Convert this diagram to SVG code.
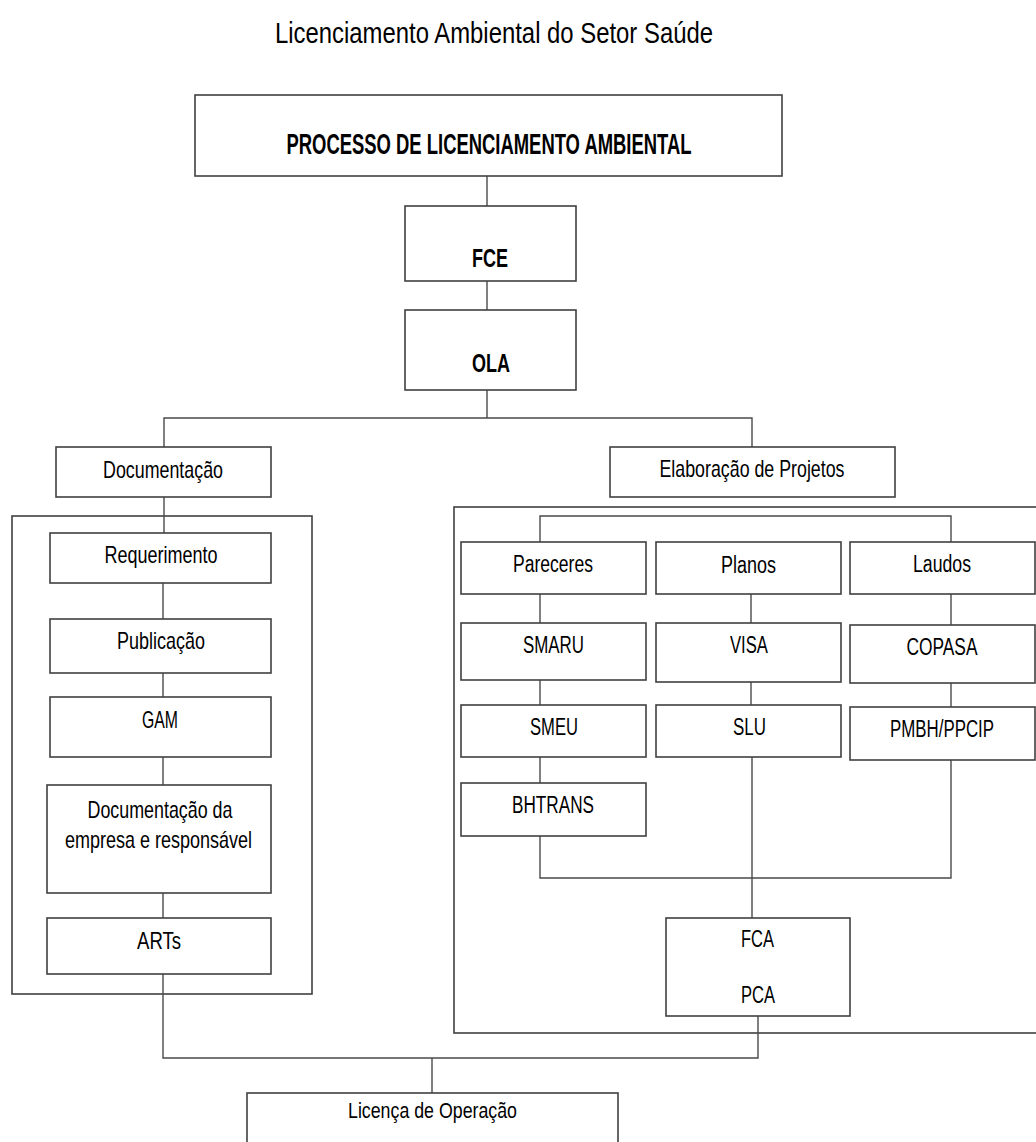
<svg xmlns="http://www.w3.org/2000/svg" width="1036" height="1142" viewBox="0 0 1036 1142">
  <style>
    .box { fill: #ffffff; stroke: #404040; stroke-width: 1.6; }
    .cont { fill: none; stroke: #404040; stroke-width: 1.6; }
    .ln { fill: none; stroke: #4a4a4a; stroke-width: 1.4; }
    .t { font-family: "Liberation Sans", Arial, sans-serif; font-size: 23px; fill: #000; text-anchor: middle; }
    .b { font-weight: bold; }
  </style>
  <rect width="1036" height="1142" fill="#ffffff"/>

  <text class="t" x="494" y="43" style="font-size:29px" textLength="438" lengthAdjust="spacingAndGlyphs">Licenciamento Ambiental do Setor Saúde</text>

  <g id="containers">
    <rect class="cont" x="12" y="516" width="300" height="478"/>
    <rect class="cont" x="454" y="507" width="600" height="526"/>
  </g>

  <g id="connectors">
    <line class="ln" x1="487" y1="176" x2="487" y2="206"/>
    <line class="ln" x1="487" y1="281" x2="487" y2="310"/>
    <line class="ln" x1="487" y1="390" x2="487" y2="418"/>
    <polyline class="ln" points="164,447 164,418 752,418 752,447"/>
    <line class="ln" x1="164" y1="497" x2="164" y2="533"/>
    <line class="ln" x1="163" y1="583" x2="163" y2="619"/>
    <line class="ln" x1="163" y1="673" x2="163" y2="697"/>
    <line class="ln" x1="163" y1="757" x2="163" y2="785"/>
    <line class="ln" x1="163" y1="893" x2="163" y2="918"/>
    <polyline class="ln" points="163,974 163,1058 758,1058 758,1016"/>
    <line class="ln" x1="432" y1="1058" x2="432" y2="1093"/>
    <polyline class="ln" points="540,542 540,516 951,516 951,542"/>
    <line class="ln" x1="540" y1="594" x2="540" y2="623"/>
    <line class="ln" x1="540" y1="680" x2="540" y2="705"/>
    <line class="ln" x1="540" y1="757" x2="540" y2="783"/>
    <polyline class="ln" points="540,836 540,878 951,878 951,760"/>
    <line class="ln" x1="751" y1="594" x2="751" y2="623"/>
    <line class="ln" x1="751" y1="682" x2="751" y2="705"/>
    <line class="ln" x1="752" y1="757" x2="752" y2="918"/>
    <line class="ln" x1="951" y1="594" x2="951" y2="625"/>
    <line class="ln" x1="951" y1="683" x2="951" y2="707"/>
  </g>

  <g id="processo">
    <rect class="box" x="195" y="95" width="587" height="81"/>
    <text class="t b" x="489" y="154" style="font-size:29px" textLength="405" lengthAdjust="spacingAndGlyphs">PROCESSO DE LICENCIAMENTO AMBIENTAL</text>
  </g>
  <g id="fce">
    <rect class="box" x="405" y="206" width="171" height="75"/>
    <text class="t b" x="490" y="267" style="font-size:26px" textLength="36" lengthAdjust="spacingAndGlyphs">FCE</text>
  </g>
  <g id="ola">
    <rect class="box" x="405" y="310" width="171" height="80"/>
    <text class="t b" x="491" y="372" style="font-size:26px" textLength="38" lengthAdjust="spacingAndGlyphs">OLA</text>
  </g>
  <g id="documentacao">
    <rect class="box" x="56" y="447" width="215" height="50"/>
    <text class="t" x="163" y="478" style="font-size:24px" textLength="120" lengthAdjust="spacingAndGlyphs">Documentação</text>
  </g>
  <g id="elaboracao">
    <rect class="box" x="610" y="447" width="285" height="50"/>
    <text class="t" x="752" y="477" style="font-size:24px" textLength="185" lengthAdjust="spacingAndGlyphs">Elaboração de Projetos</text>
  </g>
  <g id="requerimento">
    <rect class="box" x="50" y="533" width="221" height="50"/>
    <text class="t" x="161" y="563" style="font-size:24px" textLength="113" lengthAdjust="spacingAndGlyphs">Requerimento</text>
  </g>
  <g id="publicacao">
    <rect class="box" x="50" y="619" width="221" height="54"/>
    <text class="t" x="161" y="649" style="font-size:24px" textLength="88" lengthAdjust="spacingAndGlyphs">Publicação</text>
  </g>
  <g id="gam">
    <rect class="box" x="50" y="697" width="221" height="60"/>
    <text class="t" x="160" y="728" style="font-size:24px" textLength="36" lengthAdjust="spacingAndGlyphs">GAM</text>
  </g>
  <g id="doc-empresa">
    <rect class="box" x="47" y="785" width="224" height="108"/>
    <text class="t" x="160" y="818" style="font-size:24px" textLength="145" lengthAdjust="spacingAndGlyphs">Documentação da</text>
    <text class="t" x="158.5" y="848" style="font-size:24px" textLength="187" lengthAdjust="spacingAndGlyphs">empresa e responsável</text>
  </g>
  <g id="arts">
    <rect class="box" x="47" y="918" width="224" height="56"/>
    <text class="t" x="159" y="949" style="font-size:24px" textLength="44" lengthAdjust="spacingAndGlyphs">ARTs</text>
  </g>
  <g id="pareceres">
    <rect class="box" x="461" y="542" width="185" height="52"/>
    <text class="t" x="553" y="572" textLength="80" lengthAdjust="spacingAndGlyphs">Pareceres</text>
  </g>
  <g id="planos">
    <rect class="box" x="656" y="542" width="185" height="52"/>
    <text class="t" x="748.5" y="573" textLength="55" lengthAdjust="spacingAndGlyphs">Planos</text>
  </g>
  <g id="laudos">
    <rect class="box" x="850" y="542" width="185" height="52"/>
    <text class="t" x="942" y="572" textLength="58" lengthAdjust="spacingAndGlyphs">Laudos</text>
  </g>
  <g id="smaru">
    <rect class="box" x="461" y="623" width="185" height="57"/>
    <text class="t" x="553.5" y="653" textLength="61" lengthAdjust="spacingAndGlyphs">SMARU</text>
  </g>
  <g id="visa">
    <rect class="box" x="656" y="623" width="185" height="59"/>
    <text class="t" x="749" y="653" textLength="38" lengthAdjust="spacingAndGlyphs">VISA</text>
  </g>
  <g id="copasa">
    <rect class="box" x="850" y="625" width="185" height="58"/>
    <text class="t" x="942" y="655" textLength="71" lengthAdjust="spacingAndGlyphs">COPASA</text>
  </g>
  <g id="smeu">
    <rect class="box" x="461" y="705" width="185" height="52"/>
    <text class="t" x="554" y="735" textLength="48" lengthAdjust="spacingAndGlyphs">SMEU</text>
  </g>
  <g id="slu">
    <rect class="box" x="656" y="705" width="185" height="52"/>
    <text class="t" x="749.5" y="735" textLength="33" lengthAdjust="spacingAndGlyphs">SLU</text>
  </g>
  <g id="pmbh">
    <rect class="box" x="850" y="707" width="185" height="53"/>
    <text class="t" x="942" y="737" textLength="104" lengthAdjust="spacingAndGlyphs">PMBH/PPCIP</text>
  </g>
  <g id="bhtrans">
    <rect class="box" x="461" y="783" width="185" height="53"/>
    <text class="t" x="553" y="813" textLength="82" lengthAdjust="spacingAndGlyphs">BHTRANS</text>
  </g>
  <g id="fca-pca">
    <rect class="box" x="666" y="918" width="184" height="98"/>
    <text class="t" x="757.5" y="947" style="font-size:24px" textLength="33" lengthAdjust="spacingAndGlyphs">FCA</text>
    <text class="t" x="758" y="1003" style="font-size:24px" textLength="34" lengthAdjust="spacingAndGlyphs">PCA</text>
  </g>
  <g id="licenca">
    <rect class="box" x="247" y="1093" width="371" height="70"/>
    <text class="t" x="432.5" y="1118" style="font-size:22px" textLength="169" lengthAdjust="spacingAndGlyphs">Licença de Operação</text>
  </g>
</svg>
